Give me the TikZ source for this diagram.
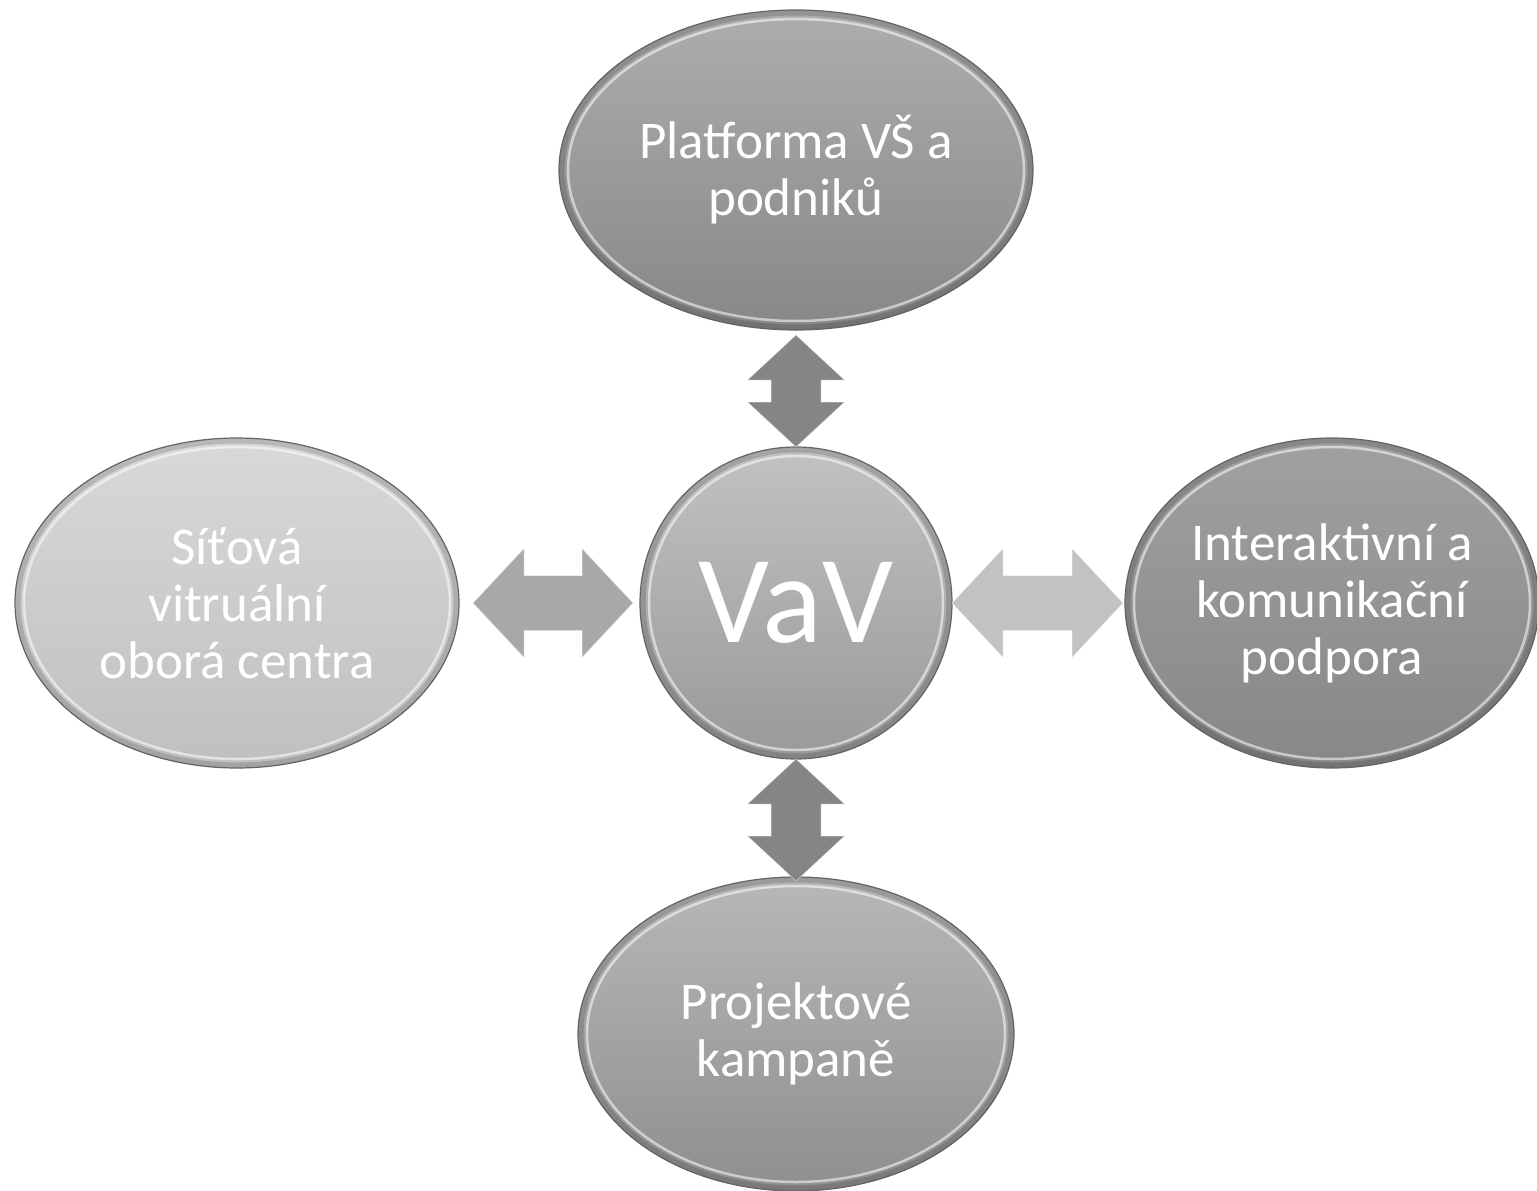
\documentclass[tikz,border=0pt]{standalone}
\usepackage{fontspec}
\setmainfont{Carlito}
\usetikzlibrary{shapes.geometric,calc}
\definecolor{rimdark}{gray}{0.40}
\definecolor{arrV}{gray}{0.52}
\definecolor{arrL}{gray}{0.66}
\definecolor{arrR}{gray}{0.76}
\newcommand{\vdblarrow}[3]{%
  \fill[#3] (#1) -- ($(#1)+(48.5,45)$) -- ($(#1)+(25,45)$) -- ($(#2)+(25,-45)$)
    -- ($(#2)+(48.5,-45)$) -- (#2) -- ($(#2)+(-48.5,-45)$) -- ($(#2)+(-25,-45)$)
    -- ($(#1)+(-25,45)$) -- ($(#1)+(-48.5,45)$) -- cycle;}
\newcommand{\hdblarrow}[3]{%
  \fill[#3] (#1) -- ($(#1)+(51,-54.5)$) -- ($(#1)+(51,-27.5)$) -- ($(#2)+(-51,-27.5)$)
    -- ($(#2)+(-51,-54.5)$) -- (#2) -- ($(#2)+(-51,54.5)$) -- ($(#2)+(-51,27.5)$)
    -- ($(#1)+(51,27.5)$) -- ($(#1)+(51,54.5)$) -- cycle;}
\newcommand{\bevel}[3]{%
  \draw[white, opacity=0.55, line width=2.5pt] (#1) ellipse [x radius=#2-9, y radius=#3-9];
  \draw[black, opacity=0.15, line width=5pt] (#1) ellipse [x radius=#2-3, y radius=#3-3];}
\begin{document}
\begin{tikzpicture}[x=1pt,y=-1pt,
  bub/.style={ellipse, inner sep=0pt, outer sep=0pt, draw=rimdark, line width=1.2pt,
    text=white, align=center, font=\fontsize{53}{57}\selectfont},
  arrshade/.style={draw=white, draw opacity=0.35, line width=1pt}]
\useasboundingbox (0,0) rectangle (1537,1191);
% nodes
\node[bub, minimum width=474, minimum height=320, top color=black!32, bottom color=black!47]
  (top) at (796,170) {Platforma VŠ a\\podniků};
\node[bub, minimum width=312, minimum height=312, top color=black!24, bottom color=black!40,
  font=\fontsize{125}{130}\selectfont]
  (c) at (796,603) {VaV};
\node[bub, minimum width=444, minimum height=330, top color=black!15, bottom color=black!25]
  (l) at (237,603) {Síťová\\vitruální\\oborá centra};
\node[bub, minimum width=414, minimum height=330, top color=black!37, bottom color=black!47]
  (r) at (1332,603) {Interaktivní a\\komunikační\\podpora};
\node[bub, minimum width=436, minimum height=314, top color=black!28, bottom color=black!44]
  (b) at (796,1034) {Projektové\\kampaně};
% bevels
\bevel{top.center}{237}{160}
\bevel{c.center}{156}{156}
\bevel{l.center}{222}{165}
\bevel{r.center}{207}{165}
\bevel{b.center}{218}{157}
% connector end points
\coordinate (t1) at ($(top.south)+(0,5)$);
\coordinate (t2) at (c.north);
\coordinate (b1) at (c.south);
\coordinate (b2) at ($(b.north)+(0,4)$);
\coordinate (l1) at ($(l.east)+(14,0)$);
\coordinate (l2) at ($(c.west)+(-7,0)$);
\coordinate (r1) at ($(c.east)+(0,0)$);
\coordinate (r2) at ($(r.west)+(-2,0)$);
% connectors
\vdblarrow{t1}{t2}{arrV, arrshade}
\vdblarrow{b1}{b2}{arrV, arrshade}
\hdblarrow{l1}{l2}{arrL, arrshade}
\hdblarrow{r1}{r2}{arrR, arrshade}
\end{tikzpicture}
\end{document}
